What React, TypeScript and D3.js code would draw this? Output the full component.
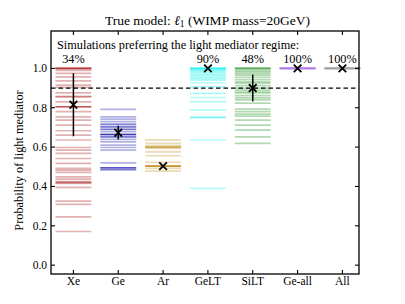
import React from "react";
import * as d3 from "d3";

const categories = ["Xe", "Ge", "Ar", "GeLT", "SiLT", "Ge-all", "All"];
const colors = ["#a00000", "#0000a8", "#b8860b", "#00f0f0", "#008000", "#b27ce6", "#a0a0a0"];

// per-simulation probabilities (repeats = overlapping simulations)
const xeSims = [1.0, 1.0, 1.0, 1.0, 0.99, 0.975, 0.957, 0.937, 0.915, 0.903, 0.876, 0.856, 0.856, 0.83, 0.805, 0.805, 0.805,
  0.78, 0.754, 0.737, 0.712, 0.683, 0.661, 0.636, 0.598, 0.585, 0.568, 0.542, 0.517, 0.492, 0.483, 0.471, 0.449,
  0.437, 0.424, 0.42, 0.42, 0.415, 0.395, 0.325, 0.309, 0.245, 0.171];
const geSims = [0.792, 0.754, 0.742, 0.729, 0.715, 0.715, 0.703, 0.703, 0.69, 0.69, 0.678, 0.664, 0.664, 0.664, 0.664,
  0.652, 0.652, 0.639, 0.627, 0.61, 0.598, 0.585, 0.52, 0.495, 0.495, 0.495, 0.485, 0.485];
const arSims = [0.637, 0.619, 0.607, 0.6, 0.6, 0.6, 0.593, 0.576, 0.556, 0.523, 0.503, 0.503, 0.503, 0.503, 0.503, 0.492, 0.478];
const geltSims = [1.0, 1.0, 1.0, 1.0, 0.995, 0.99, 0.985, 0.978, 0.97, 0.963, 0.955, 0.948, 0.94, 0.927, 0.906,
  0.873, 0.852, 0.83, 0.788, 0.751, 0.751, 0.636, 0.39];
const siltSims = [1.0, 1.0, 1.0, 0.99, 0.983, 0.975, 0.966, 0.955, 0.943, 0.932, 0.925, 0.912, 0.9, 0.89, 0.88, 0.875,
  0.862, 0.85, 0.84, 0.823, 0.793, 0.78, 0.768, 0.757, 0.737, 0.712, 0.686, 0.652, 0.619];
const geAllSims = [1.0, 1.0, 1.0];
const allSims = [1.0, 1.0, 1.0];
const sims = [xeSims, geSims, arSims, geltSims, siltSims, geAllSims, allSims];

const means = [0.815, 0.673, 0.503, 1.0, 0.9, 1.0, 1.0];
const errs = [0.16, 0.035, 0.004, 0.0, 0.068, 0.0, 0.0];
const pctLabels = ["34%", "", "", "90%", "48%", "100%", "100%"];
const yTicks = [0.0, 0.2, 0.4, 0.6, 0.8, 1.0];
const threshold = 0.9;

const W = 405, H = 304;
const M = { left: 51, right: 359, top: 31, bottom: 274 };
const font = "'Liberation Serif', 'Times New Roman', serif";

export default function App() {
  const x = d3.scaleLinear().domain([-0.5, 6.37]).range([M.left, M.right]);
  const y = d3.scaleLinear().domain([-0.045, 1.19]).range([M.bottom, M.top]);
  const hw = x(0.4) - x(0);
  const tl = 4;

  return (
    <div style={{ position: "fixed", left: 0, top: 0 }}>
      <svg width={W} height={H} style={{ display: "block", background: "#fff" }} fontFamily={font}>
        <text x={207.5} y={24.5} fontSize={13.5} textAnchor="middle">
          True model: <tspan fontStyle="italic">ℓ</tspan>
          <tspan fontSize={9.5} dy={2.5}>1</tspan>
          <tspan dy={-2.5}> (WIMP mass=20GeV)</tspan>
        </text>

        {sims.map((vals, i) =>
          vals.map((v, j) => (
            <line key={`${i}-${j}`} x1={x(i) - hw} x2={x(i) + hw} y1={y(v)} y2={y(v)}
              stroke={colors[i]} strokeWidth={1.7} strokeOpacity={i >= 5 ? 0.8 : 0.3} />
          ))
        )}

        <line x1={M.left} x2={M.right} y1={y(threshold)} y2={y(threshold)}
          stroke="#000" strokeWidth={1.3} strokeDasharray="4.5,3" />

        {means.map((m, i) => (
          <g key={i}>
            {errs[i] > 0 && (
              <line x1={x(i)} x2={x(i)} y1={y(m - errs[i])} y2={y(m + errs[i])} stroke="#000" strokeWidth={1.5} />
            )}
            <path d={`M${x(i) - 3.8},${y(m) - 3.8}L${x(i) + 3.8},${y(m) + 3.8}M${x(i) - 3.8},${y(m) + 3.8}L${x(i) + 3.8},${y(m) - 3.8}`}
              stroke="#000" strokeWidth={1.8} />
          </g>
        ))}

        <text x={57} y={48.5} fontSize={12.3}>Simulations preferring the light mediator regime:</text>
        {pctLabels.map((p, i) => p && (
          <text key={i} x={x(i)} y={62.5} fontSize={12.3} textAnchor="middle">{p}</text>
        ))}

        {/* frame and ticks */}
        <rect x={M.left} y={M.top} width={M.right - M.left} height={M.bottom - M.top}
          fill="none" stroke="#000" strokeWidth={1.3} />
        {yTicks.map((t) => (
          <g key={t}>
            <line x1={M.left} x2={M.left + tl} y1={y(t)} y2={y(t)} stroke="#000" strokeWidth={1.1} />
            <line x1={M.right} x2={M.right - tl} y1={y(t)} y2={y(t)} stroke="#000" strokeWidth={1.1} />
            <text x={M.left - 4} y={y(t)} dy="0.35em" fontSize={11.5} textAnchor="end">{t.toFixed(1)}</text>
          </g>
        ))}
        {categories.map((c, i) => (
          <g key={c}>
            <line x1={x(i)} x2={x(i)} y1={M.bottom} y2={M.bottom - tl} stroke="#000" strokeWidth={1.1} />
            <line x1={x(i)} x2={x(i)} y1={M.top} y2={M.top + tl} stroke="#000" strokeWidth={1.1} />
            <text x={x(i)} y={284.5} fontSize={11.5} textAnchor="middle">{c}</text>
          </g>
        ))}
        <text transform={`translate(23,${(M.top + M.bottom) / 2 + 8}) rotate(-90)`} fontSize={12.3} textAnchor="middle">
          Probability of light mediator
        </text>
      </svg>
    </div>
  );
}
